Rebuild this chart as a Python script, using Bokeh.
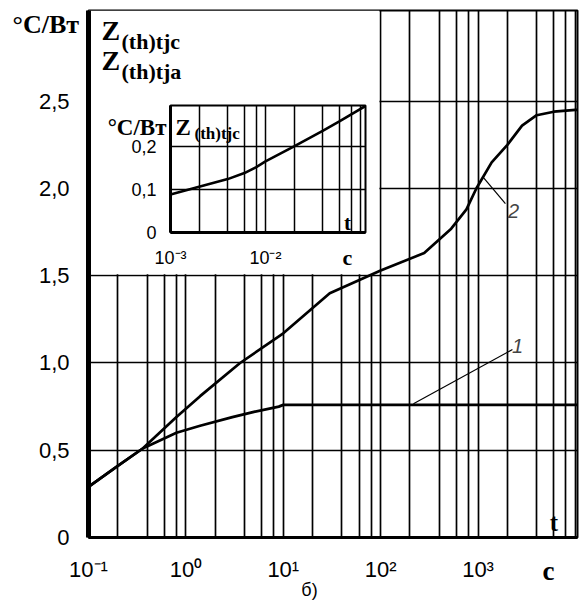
from bokeh.plotting import figure
from bokeh.models import FixedTicker, Label, Range1d
from bokeh.layouts import column
from bokeh.core.properties import value
from bokeh.embed import file_html
from bokeh.resources import INLINE

# ---------------- data ----------------
# main chart: curve 1 (Z(th)tjc) and curve 2 (Z(th)tja), t in seconds
t_curve1 = [0.1, 0.2, 0.36, 0.8, 1.4, 3.0, 5.0, 9.0, 10.0, 100.0, 1000.0, 10500.0]
z_curve1 = [0.29, 0.41, 0.51, 0.60, 0.64, 0.69, 0.72, 0.75, 0.76, 0.76, 0.76, 0.76]
t_curve2 = [0.1, 0.2, 0.36, 0.8, 1.4, 3.6, 10, 30, 100, 280, 530, 760, 960,
            1380, 2000, 2830, 4000, 6000, 10000, 10500]
z_curve2 = [0.29, 0.41, 0.51, 0.69, 0.81, 1.0, 1.17, 1.40, 1.53, 1.63, 1.77, 1.88,
            2.0, 2.15, 2.25, 2.36, 2.42, 2.44, 2.45, 2.45]

# leader lines and numbers of the curves
leader1_t = [217, 2254]
leader1_z = [0.767, 1.077]
leader2_t = [1109, 1910]
leader2_z = [2.07, 1.913]
curve_names = ["1", "2"]
curve_name_t = [2540, 2310]
curve_name_z = [1.10, 1.873]

# inset: Z(th)tjc for short times
t_inset = [1e-3, 2e-3, 4e-3, 6e-3, 8e-3, 1e-2, 2e-2, 4e-2, 6e-2, 0.113]
z_inset = [0.088, 0.106, 0.124, 0.138, 0.152, 0.165, 0.2, 0.236, 0.258, 0.294]

# ticks
x_major = [0.1, 1, 10, 100, 1000]
x_major_labels = ["10⁻¹", "10⁰", "10¹", "10²", "10³"]
x_minor = [m * d for d in [0.1, 1, 10, 100, 1000] for m in (2, 4, 6, 8)] + [10000]
y_major = [0, 0.5, 1, 1.5, 2, 2.5]
y_major_labels = ["0", "0,5", "1,0", "1,5", "2,0", "2,5"]

xi_major = [1e-3, 1e-2]
xi_major_labels = ["10⁻³", "10⁻²"]
xi_minor = [m * d for d in [1e-3, 1e-2] for m in (2, 4, 6, 8)] + [0.1]
yi_major = [0, 0.1, 0.2]
yi_major_labels = ["0", "0,1", "0,2"]

SANS = "Liberation Sans"
SERIF = "Liberation Serif"
W, H = 580, 605

# ---------------- main figure ----------------
p = figure(width=W, height=H, x_axis_type="log",
           x_range=(0.1, 10500), y_range=(0, 3.02),
           output_backend="svg", toolbar_location=None,
           min_border_left=88, min_border_right=3,
           min_border_top=10, min_border_bottom=68)
p.frame_align = False
p.background_fill_color = "white"
p.border_fill_color = "white"
p.outline_line_color = "black"
p.outline_line_width = 2

xt = FixedTicker(ticks=x_major, minor_ticks=x_minor)
p.xaxis.ticker = xt
p.xgrid.ticker = xt
p.xaxis.major_label_overrides = dict(zip(x_major, x_major_labels))
yt = FixedTicker(ticks=y_major)
p.yaxis.ticker = yt
p.ygrid.ticker = yt
p.yaxis.major_label_overrides = dict(zip(y_major, y_major_labels))

for ax in (p.xaxis, p.yaxis):
    ax.major_tick_line_color = None
    ax.minor_tick_line_color = None
    ax.axis_line_color = "black"
    ax.major_label_text_font = SANS
    ax.major_label_text_font_size = "22px"
    ax.major_label_text_color = "black"
p.yaxis.axis_line_width = 5
p.xaxis.axis_line_width = 3
p.yaxis.major_label_standoff = 13
p.xaxis.major_label_standoff = 13

p.xgrid.grid_line_color = "black"
p.xgrid.grid_line_width = 1.7
p.xgrid.minor_grid_line_color = "black"
p.xgrid.minor_grid_line_width = 1.7
p.ygrid.grid_line_color = "black"
p.ygrid.grid_line_width = 1.5

# white area behind the inset (no grid there)
p.quad(left=[0.1], right=[97], bottom=[1.508], top=[3.02],
       fill_color="white", line_color=None)

p.line(t_curve1, z_curve1, line_color="black", line_width=2.7)
p.line(t_curve2, z_curve2, line_color="black", line_width=2.7)
p.line(leader1_t, leader1_z, line_color="black", line_width=1.2)
p.line(leader2_t, leader2_z, line_color="black", line_width=1.2)
for name, tx, zy in zip(curve_names, curve_name_t, curve_name_z):
    p.add_layout(Label(x=tx, y=zy, text=name, text_font=SANS,
                       text_font_style="italic", text_font_size="20px",
                       text_align="center", text_baseline="middle"))

def lab(fig, x, y, text, xo, yo, size, font=SERIF, style="bold", align="left"):
    fig.add_layout(Label(x=x, y=y, text=text, x_offset=xo, y_offset=yo,
                         text_font=font, text_font_style=style,
                         text_font_size=size, text_align=align,
                         text_baseline="middle", text_color="black"))

# texts inside the main frame (offsets from the top-left corner / bottom)
lab(p, 0.1, 3.02, "Z", 13, -20, "28px")
lab(p, 0.1, 3.02, "(th)tjc", 33, -31, "22px")
lab(p, 0.1, 3.02, "Z", 13, -50, "28px")
lab(p, 0.1, 3.02, "(th)tja", 33, -61, "22px")
lab(p, 6000, 0, "t", 0, 15, "25px", align="center")

# ---------------- transparent text layer for texts outside the frames ----------------
o = figure(width=W, height=H, x_range=Range1d(0, W), y_range=Range1d(H, 0),
           output_backend="svg", toolbar_location=None,
           x_axis_location=None, y_axis_location=None,
           min_border=0, min_border_left=0, min_border_right=0,
           min_border_top=0, min_border_bottom=0)
o.frame_align = False
o.background_fill_alpha = 0
o.border_fill_alpha = 0
o.outline_line_color = None
o.grid.visible = False

# units and captions (screen positions of the texts)
unit_texts = ["°C/Вт", "°C/Вт"]
unit_x = [12, 166]
unit_y = [24, 127]
o.text(x=unit_x[:1], y=unit_y[:1], text=unit_texts[:1], text_font=value(SERIF),
       text_font_style="bold", text_font_size=value("26px"),
       text_align="left", text_baseline="middle", text_color="black")
o.text(x=unit_x[1:], y=unit_y[1:], text=unit_texts[1:], text_font=value(SERIF),
       text_font_style="bold", text_font_size=value("23px"),
       text_align="right", text_baseline="middle", text_color="black")
o.text(x=[548], y=[570], text=["c"], text_font=value(SERIF),
       text_font_style="bold", text_font_size=value("27px"),
       text_align="center", text_baseline="middle", text_color="black")
o.text(x=[347], y=[257], text=["c"], text_font=value(SERIF),
       text_font_style="bold", text_font_size=value("22px"),
       text_align="center", text_baseline="middle", text_color="black")
o.text(x=[309], y=[589], text=["б)"], text_font=value(SANS),
       text_font_size=value("18px"),
       text_align="center", text_baseline="middle", text_color="black")

# ---------------- inset figure ----------------
q = figure(width=280, height=185, x_axis_type="log",
           x_range=(1e-3, 0.113), y_range=(0, 0.295),
           output_backend="svg", toolbar_location=None,
           min_border_left=75, min_border_right=10,
           min_border_top=20, min_border_bottom=33)
q.frame_align = False
q.background_fill_color = "white"
q.border_fill_alpha = 0
q.outline_line_color = "black"
q.outline_line_width = 2

xti = FixedTicker(ticks=xi_major, minor_ticks=xi_minor)
q.xaxis.ticker = xti
q.xgrid.ticker = xti
q.xaxis.major_label_overrides = dict(zip(xi_major, xi_major_labels))
yti = FixedTicker(ticks=yi_major)
q.yaxis.ticker = yti
q.ygrid.ticker = yti
q.yaxis.major_label_overrides = dict(zip(yi_major, yi_major_labels))
for ax in (q.xaxis, q.yaxis):
    ax.major_tick_line_color = None
    ax.minor_tick_line_color = None
    ax.axis_line_color = "black"
    ax.axis_line_width = 3
    ax.major_label_text_font = SANS
    ax.major_label_text_font_size = "18px"
    ax.major_label_text_color = "black"
q.yaxis.major_label_standoff = 8
q.xaxis.major_label_standoff = 9
q.xgrid.grid_line_color = "black"
q.xgrid.grid_line_width = 1.5
q.xgrid.minor_grid_line_color = "black"
q.xgrid.minor_grid_line_width = 1.5
q.ygrid.grid_line_color = "black"
q.ygrid.grid_line_width = 1.5

q.line(t_inset, z_inset, line_color="black", line_width=2.6)

lab(q, 1e-3, 0.295, "Z", 5, -22, "23px")
lab(q, 1e-3, 0.295, "(th)tjc", 24, -28, "17px")
lab(q, 0.073, 0, "t", 0, 10, "21px", align="center")

# stack: main chart, text layer on top of it, inset on top of both
o.margin = (-H, 0, 0, 0)
q.margin = (85 - H, 0, 0, 95)
layout = column(p, o, q)

open("out.html", "w").write(file_html(layout, INLINE))
